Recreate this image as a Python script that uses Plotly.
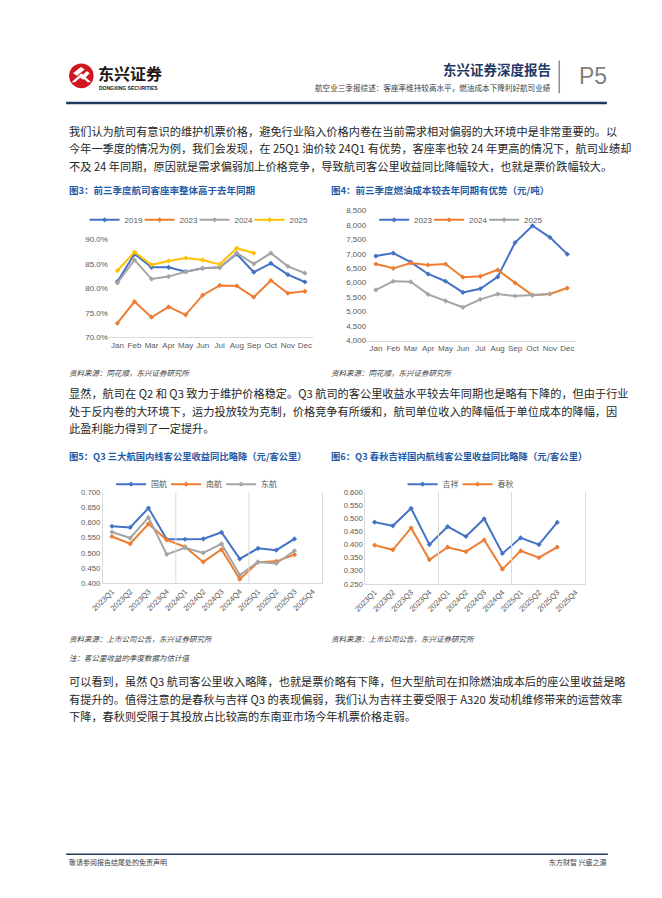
import plotly.graph_objects as go

# page is 662x898; the html body adds an 8px margin, so the figure is drawn
# slightly smaller and page coordinates are shifted by that margin
OFF = 8
W, H = 662 - 2 * OFF, 898 - 2 * OFF


def px(x):
    return (x - OFF) / W


def py(y):
    return 1 - (y - OFF) / H


# ---------------- data ----------------
months = ["Jan", "Feb", "Mar", "Apr", "May", "Jun", "Jul", "Aug", "Sep", "Oct", "Nov", "Dec"]

# Fig 3: passenger load factor (%)
lf_2019 = [81.4, 87.0, 84.3, 84.3, 83.4, 84.1, 84.3, 87.0, 83.3, 85.1, 82.8, 81.3]
lf_2023 = [72.9, 77.3, 74.1, 76.2, 74.6, 78.6, 80.6, 80.5, 78.2, 81.6, 79.0, 79.4]
lf_2024 = [81.1, 85.8, 81.9, 82.4, 83.4, 84.1, 84.2, 87.2, 85.0, 87.2, 84.5, 83.1]
lf_2025 = [83.6, 87.4, 84.8, 85.6, 86.2, 85.8, 84.9, 88.2, 87.2]

# Fig 4: jet fuel cost (yuan/ton)
fuel_2023 = [6920, 7020, 6710, 6300, 6050, 5665, 5790, 6200, 7385, 7965, 7565, 6985]
fuel_2024 = [6645, 6495, 6680, 6610, 6645, 6190, 6220, 6440, 5995, 5570, 5610, 5815]
fuel_2025 = [5755, 6050, 6030, 5595, 5370, 5150, 5425, 5605, 5540, 5570, 5610]

# Fig 5 / Fig 6: domestic yield (yuan / passenger-km)
quarters = ["2023Q1", "2023Q2", "2023Q3", "2023Q4", "2024Q1", "2024Q2", "2024Q3", "2024Q4",
            "2025Q1", "2025Q2", "2025Q3", "2025Q4"]
air_china = [0.588, 0.584, 0.648, 0.545, 0.545, 0.546, 0.568, 0.480, 0.515, 0.509, 0.546]
china_southern = [0.554, 0.530, 0.596, 0.543, 0.520, 0.470, 0.511, 0.413, 0.469, 0.472, 0.494]
china_eastern = [0.569, 0.549, 0.617, 0.495, 0.517, 0.500, 0.530, 0.427, 0.470, 0.465, 0.507]
juneyao = [0.486, 0.472, 0.539, 0.400, 0.469, 0.431, 0.499, 0.366, 0.426, 0.400, 0.485]
spring = [0.398, 0.380, 0.464, 0.342, 0.390, 0.373, 0.418, 0.306, 0.376, 0.350, 0.390]

BLUE, ORANGE, GRAY, YELLOW = "#4472C4", "#ED7D31", "#A5A5A5", "#FFC000"
TICK = "#595959"
AXL = "#D9D9D9"
CJK = "Noto Sans CJK SC"
LAT = "Liberation Sans, Noto Sans CJK SC"

fig = go.Figure()


def add_line(x, y, name, color, ax, leg, last=False):
    fig.add_trace(go.Scatter(
        x=x[:len(y)], y=y, name=name, mode="lines+markers",
        line=dict(color=color, width=2),
        marker=dict(color=color, size=4, symbol="diamond"),
        xaxis="x" + ax, yaxis="y" + ax, legend=leg,
        legendwidth=22 if last else None,
    ))


add_line(months, lf_2019, "2019", BLUE, "", "legend")
add_line(months, lf_2023, "2023", ORANGE, "", "legend")
add_line(months, lf_2024, "2024", GRAY, "", "legend")
add_line(months, lf_2025, "2025", YELLOW, "", "legend", last=True)

add_line(months, fuel_2023, "2023", BLUE, "2", "legend2")
add_line(months, fuel_2024, "2024", ORANGE, "2", "legend2")
add_line(months, fuel_2025, "2025", GRAY, "2", "legend2", last=True)

add_line(quarters, air_china, "国航", BLUE, "3", "legend3")
add_line(quarters, china_southern, "南航", ORANGE, "3", "legend3")
add_line(quarters, china_eastern, "东航", GRAY, "3", "legend3", last=True)

add_line(quarters, juneyao, "吉祥", BLUE, "4", "legend4")
add_line(quarters, spring, "春秋", ORANGE, "4", "legend4", last=True)

tickfont = dict(family=LAT, size=8, color=TICK)
tickfont_s = dict(family=LAT, size=7.7, color=TICK)

common_x = dict(type="category", range=[-0.5, 11.5], showgrid=False, zeroline=False,
                showline=True, linecolor=AXL, linewidth=1, ticks="", fixedrange=True)
common_y = dict(showgrid=False, zeroline=False, ticks="", fixedrange=True)

fig.update_layout(
    xaxis=dict(common_x, domain=[px(98.6), px(307)], anchor="y", tickfont=tickfont,
               categoryorder="array", categoryarray=months),
    yaxis=dict(common_y, domain=[py(336.7), py(237.7)], anchor="x", range=[70, 90],
               tickvals=[70, 75, 80, 85, 90], ticktext=["70.0%", "75.0%", "80.0%", "85.0%", "90.0%"],
               tickfont=tickfont, showline=False),
    xaxis2=dict(common_x, domain=[px(361.8), px(574.5)], anchor="y2", tickfont=tickfont,
                categoryorder="array", categoryarray=months),
    yaxis2=dict(common_y, domain=[py(340), py(208.3)], anchor="x2", range=[4000, 8500],
                dtick=500, tickformat=",", tickfont=tickfont, showline=False),
    xaxis3=dict(common_x, domain=[px(92.4), px(315.6)], anchor="y3", tickfont=tickfont_s,
                tickangle=-45, categoryorder="array", categoryarray=quarters),
    yaxis3=dict(common_y, domain=[py(585), py(493.3)], anchor="x3", range=[0.4, 0.7],
                dtick=0.05, tickformat=".3f", tickfont=tickfont_s,
                showline=True, mirror=True, linecolor=AXL, linewidth=1),
    xaxis4=dict(common_x, domain=[px(360), px(583.3)], anchor="y4", tickfont=tickfont_s,
                tickangle=-45, categoryorder="array", categoryarray=quarters),
    yaxis4=dict(common_y, domain=[py(585.7), py(493.3)], anchor="x4", range=[0.25, 0.6],
                dtick=0.05, tickformat=".3f", tickfont=tickfont_s,
                showline=True, mirror=True, linecolor=AXL, linewidth=1),
)

leg_common = dict(orientation="h", xanchor="center", yanchor="middle",
                  bgcolor="rgba(0,0,0,0)", itemwidth=30, entrywidthmode="pixels",
                  entrywidth=10, font=dict(family=LAT, size=8, color=TICK),
                  itemclick=False, itemdoubleclick=False)
fig.update_layout(
    legend=dict(leg_common, x=px(192), y=py(218)),
    legend2=dict(leg_common, x=px(459), y=py(218)),
    legend3=dict(leg_common, x=px(191), y=py(485)),
    legend4=dict(leg_common, x=px(460), y=py(485)),
)

shapes = []
# year separators in quarterly charts
for ax in ["3", "4"]:
    for i in range(1, len(quarters)):
        if quarters[i][:4] != quarters[i - 1][:4]:
            shapes.append(dict(type="line", xref="x" + ax, yref="y" + ax + " domain",
                               x0=i - 0.5, x1=i - 0.5, y0=0, y1=1,
                               line=dict(color=AXL, width=1)))

# header / footer decoration
NAVY = "#1F3A5F"
shapes += [
    dict(type="line", xref="paper", yref="paper", x0=px(55), x1=px(606), y0=py(100), y1=py(100),
         line=dict(color=NAVY, width=2.5)),
    dict(type="line", xref="paper", yref="paper", x0=px(557.5), x1=px(557.5), y0=py(57), y1=py(90),
         line=dict(color="#8C8C8C", width=1.5)),
    dict(type="line", xref="paper", yref="paper", x0=px(55), x1=px(607), y0=py(859), y1=py(859),
         line=dict(color=NAVY, width=1.5)),
    # logo
    dict(type="circle", xref="paper", yref="paper", x0=px(58), x1=px(83), y0=py(85), y1=py(60),
         fillcolor="#D0161E", line=dict(width=0)),
    dict(type="path", xref="paper", yref="paper",
         path=f"M {px(60.5)} {py(79)} L {px(70.5)} {py(70)} L {px(80.5)} {py(79)} L {px(77)} {py(79)} "
              f"L {px(70.5)} {py(73.5)} L {px(64)} {py(79)} Z",
         fillcolor="white", line=dict(width=0)),
    dict(type="path", xref="paper", yref="paper",
         path=f"M {px(62)} {py(70)} L {px(70)} {py(63.5)} L {px(74)} {py(66)} L {px(66)} {py(72.5)} Z",
         fillcolor="white", line=dict(width=0)),
    dict(type="path", xref="paper", yref="paper",
         path=f"M {px(69)} {py(74.5)} L {px(76)} {py(67.5)} L {px(79)} {py(70)} L {px(72.5)} {py(76.5)} Z",
         fillcolor="white", line=dict(width=0)),
]
fig.update_layout(shapes=shapes)

ann = []


def text(x, y, s, size=11, color="#262626", bold=False, italic=False, anchor="left", family=CJK):
    if bold:
        s = f"<b>{s}</b>"
    if italic:
        s = f"<i>{s}</i>"
    ann.append(dict(xref="paper", yref="paper", x=px(x), y=py(y), text=s, showarrow=False,
                    xanchor=anchor, yanchor="middle", borderpad=0,
                    font=dict(family=family, size=size, color=color)))


# header
text(86, 70, "东兴证券", size=16, color="#231815", bold=True)
text(87.5, 85, "DONGXING SECURITIES", size=5, color="#231815", bold=True, family="Liberation Sans")
text(550, 66, "东兴证券深度报告", size=13.5, color="#1F3864", bold=True, anchor="right")
text(550, 84.5, "航空业三季报综述：客座率维持较高水平，燃油成本下降利好航司业绩", size=7.6,
     color="#404040", anchor="right")
text(607, 73, "P5", size=23, color="#7F7F7F", anchor="right", family="Liberation Sans")

body1 = ["我们认为航司有意识的维护机票价格，避免行业陷入价格内卷在当前需求相对偏弱的大环境中是非常重要的。以",
         "今年一季度的情况为例，我们会发现，在 25Q1 油价较 24Q1 有优势，客座率也较 24 年更高的情况下，航司业绩却",
         "不及 24 年同期，原因就是需求偏弱加上价格竞争，导致航司客公里收益同比降幅较大，也就是票价跌幅较大。"]
for i, s in enumerate(body1):
    text(57, 128 + i * 17.7, s, size=11.2)

TITLE = "#1F5BA6"
text(57, 188, "图3：前三季度航司客座率整体高于去年同期", size=9.5, color=TITLE, bold=True)
text(324, 188, "图4：前三季度燃油成本较去年同期有优势（元/吨）", size=9.5, color=TITLE, bold=True)

text(57, 372, "资料来源：同花顺，东兴证券研究所", size=7.5, color="#404040", italic=True)
text(324, 372, "资料来源：同花顺，东兴证券研究所", size=7.5, color="#404040", italic=True)

body2 = ["显然，航司在 Q2 和 Q3 致力于维护价格稳定。Q3 航司的客公里收益水平较去年同期也是略有下降的，但由于行业",
         "处于反内卷的大环境下，运力投放较为克制，价格竞争有所缓和，航司单位收入的降幅低于单位成本的降幅，因",
         "此盈利能力得到了一定提升。"]
for i, s in enumerate(body2):
    text(57, 393 + i * 17.7, s, size=11.2)

text(57, 457, "图5：Q3 三大航国内线客公里收益同比略降（元/客公里）", size=9.3, color=TITLE, bold=True)
text(324, 457, "图6：Q3 春秋吉祥国内航线客公里收益同比略降（元/客公里）", size=9.3, color=TITLE, bold=True)

text(57, 641, "资料来源：上市公司公告，东兴证券研究所", size=7.5, color="#404040", italic=True)
text(324, 641, "资料来源：上市公司公告，东兴证券研究所", size=7.5, color="#404040", italic=True)
text(57, 660, "注：客公里收益的季度数据为估计值", size=7.5, color="#404040", italic=True)

body3 = ["可以看到，虽然 Q3 航司客公里收入略降，也就是票价略有下降，但大型航司在扣除燃油成本后的座公里收益是略",
         "有提升的。值得注意的是春秋与吉祥 Q3 的表现偏弱，我们认为吉祥主要受限于 A320 发动机维修带来的运营效率",
         "下降，春秋则受限于其投放占比较高的东南亚市场今年机票价格走弱。"]
for i, s in enumerate(body3):
    text(57, 684 + i * 17.7, s, size=11.2)

text(57, 867, "敬请参阅报告结尾处的免责声明", size=7, color="#404040")
text(607, 867, "东方财智 兴盛之源", size=7, color="#404040", anchor="right")

fig.update_layout(annotations=ann)

fig.update_layout(
    width=W, height=H, margin=dict(l=0, r=0, t=0, b=0),
    paper_bgcolor="white", plot_bgcolor="white",
    font=dict(family=LAT, color=TICK),
    hovermode=False,
)

fig.write_html("out.html", config={"displayModeBar": False})
